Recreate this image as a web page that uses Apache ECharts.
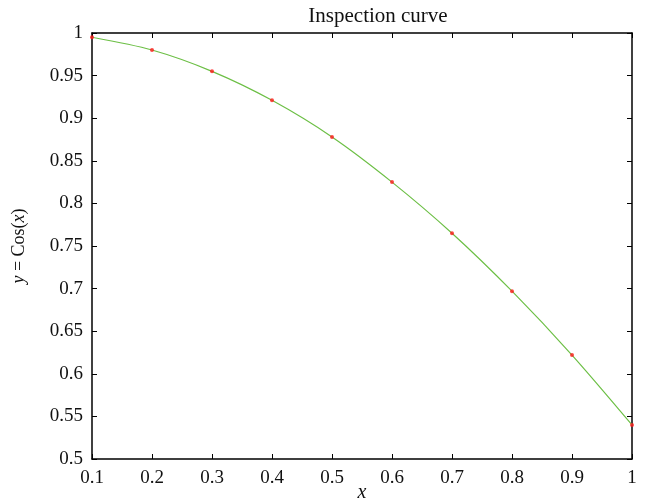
<!DOCTYPE html>
<html>
<head>
<meta charset="utf-8">
<title>Inspection curve</title>
<script src="https://cdn.jsdelivr.net/npm/echarts@6/dist/echarts.min.js"></script>
<style>
  html, body { margin: 0; padding: 0; background: #fff; }
  #chart { width: 646px; height: 500px; }
</style>
</head>
<body>
<div id="chart"></div>
<script>
// sample points (x) and inspected values
const xValues = [0.1, 0.2, 0.3, 0.4, 0.5, 0.6, 0.7, 0.8, 0.9, 1.0];
const yValues = [0.995, 0.980, 0.955, 0.921, 0.878, 0.825, 0.765, 0.697, 0.622, 0.540];

const FONT = '"Liberation Serif", "DejaVu Serif", serif';

const points = xValues.map((x, i) => [x, yValues[i]]);

const chart = echarts.init(document.getElementById('chart'));

// shared axis look: black frame, ticks pointing inward
const axisBase = {
  type: 'value',
  axisLine: { show: true, onZero: false, lineStyle: { color: '#000', width: 1.5 } },
  axisTick: { show: true, inside: true, length: 5, lineStyle: { color: '#000', width: 1 } },
  splitLine: { show: false },
  axisLabel: { color: '#111', fontFamily: FONT, fontSize: 19 }
};

chart.setOption({
  animation: false,
  backgroundColor: '#fff',
  title: {
    text: 'Inspection curve',
    left: 373,
    top: 1,
    textAlign: 'center',
    textStyle: { fontFamily: FONT, fontSize: 21, fontWeight: 'normal', color: '#111' }
  },
  grid: { left: 92, right: 14, top: 33, bottom: 41, outerBoundsMode: 'none', containLabel: false },
  xAxis: [
    {
      ...axisBase,
      position: 'bottom',
      min: 0.1,
      max: 1,
      interval: 0.1,
      axisLabel: { ...axisBase.axisLabel, margin: 10 },
      name: 'x',
      nameLocation: 'middle',
      nameGap: 24,
      nameMoveOverlap: false,
      nameTextStyle: { fontFamily: FONT, fontSize: 20, fontStyle: 'italic', color: '#111' }
    },
    {
      ...axisBase,
      position: 'top',
      min: 0.1,
      max: 1,
      interval: 0.1,
      axisLabel: { show: false }
    }
  ],
  yAxis: [
    {
      ...axisBase,
      position: 'left',
      min: 0.5,
      max: 1,
      interval: 0.05,
      axisLabel: { ...axisBase.axisLabel, margin: 9 },
      name: '{i|y} = Cos({i|x})',
      nameLocation: 'middle',
      nameGap: 64,
      nameMoveOverlap: false,
      nameTextStyle: {
        fontFamily: FONT,
        fontSize: 18,
        color: '#111',
        rich: {
          i: { fontFamily: FONT, fontSize: 18, fontStyle: 'italic', color: '#111' }
        }
      }
    },
    {
      ...axisBase,
      position: 'right',
      min: 0.5,
      max: 1,
      interval: 0.05,
      axisLabel: { show: false }
    }
  ],
  series: [
    {
      type: 'line',
      data: points,
      smooth: 0.3,
      showSymbol: false,
      lineStyle: { color: '#6cbf45', width: 1.2 },
      z: 2
    },
    {
      type: 'scatter',
      data: points,
      symbol: 'circle',
      symbolSize: 4,
      itemStyle: { color: '#ff1a1a' },
      z: 3
    }
  ]
});
</script>
</body>
</html>
